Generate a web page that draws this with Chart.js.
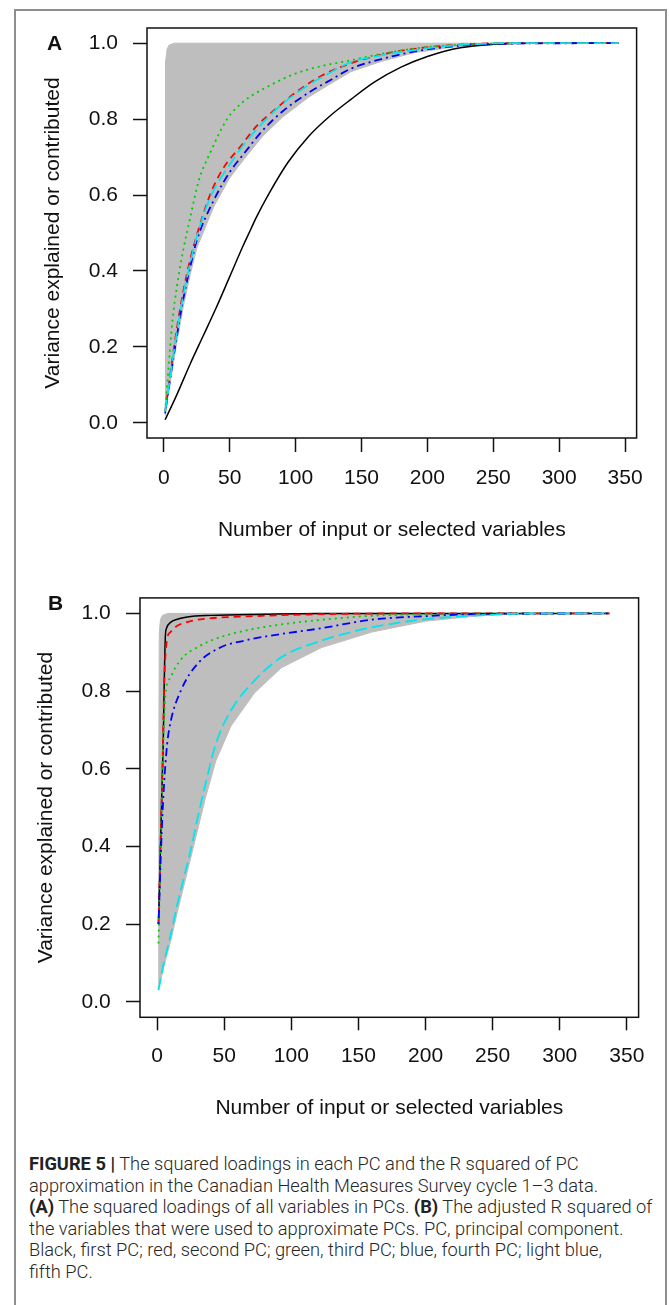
<!DOCTYPE html>
<html><head><meta charset="utf-8">
<script src="https://cdn.jsdelivr.net/npm/chart.js@4/dist/chart.umd.min.js"></script>
<style>
html,body{margin:0;padding:0;background:#fff;}
body{width:669px;height:1305px;position:relative;overflow:hidden;font-family:"Liberation Sans",Arial,sans-serif;}
#frame{position:absolute;left:14px;top:9px;width:653px;height:1320px;border:2px solid #8e8e8e;box-sizing:border-box;}
canvas{position:absolute;left:0;}
.lab{position:absolute;font:bold 21px/24px "Liberation Sans",Arial,sans-serif;color:#111;}
#cap{position:absolute;left:29px;top:1153px;font-family:Roboto,"Liberation Sans",sans-serif;font-weight:300;font-size:18.3px;line-height:21.5px;color:#262626;white-space:nowrap;}
#cap b{font-weight:700;color:#222;}
</style></head>
<body>
<div id="frame"></div>
<canvas id="cA" width="669" height="570" style="top:0px"></canvas>
<canvas id="cB" width="669" height="575" style="top:570px"></canvas>
<div class="lab" style="left:47px;top:31px">A</div>
<div class="lab" style="left:48px;top:591px">B</div>
<div id="cap">
<div><b>FIGURE 5 |</b> The squared loadings in each PC and the R squared of PC</div>
<div>approximation in the Canadian Health Measures Survey cycle 1–3 data.</div>
<div><b>(A)</b> The squared loadings of all variables in PCs. <b>(B)</b> The adjusted R squared of</div>
<div>the variables that were used to approximate PCs. PC, principal component.</div>
<div>Black, first PC; red, second PC; green, third PC; blue, fourth PC; light blue,</div>
<div>fifth PC.</div>
</div>
<script>
// ---------- Panel A data (squared loadings, cumulative) ----------
const xTicksA = [0, 50, 100, 150, 200, 250, 300, 350];
const yTicks = [0, 0.2, 0.4, 0.6, 0.8, 1.0];

const grayHiA_x = [1, 1.1, 1.5, 2.5, 4, 8, 345];
const grayHiA_y = [0.02, 0.6, 0.95, 0.985, 0.995, 1.0, 1.0];
const grayLoA_x = [1, 5, 10, 15, 20, 25, 38, 50, 61, 75, 90, 110, 125, 142, 165, 190, 220, 260, 345];
const grayLoA_y = [0.02, 0.11, 0.215, 0.31, 0.39, 0.46, 0.57, 0.645, 0.695, 0.755, 0.805, 0.858, 0.89, 0.925, 0.952, 0.975, 0.99, 0.999, 1.0];

const blackA_x = [1, 10, 20, 30, 40, 50, 60, 66, 70, 80, 94, 110, 125, 142, 160, 180, 200, 225, 250, 280, 345];
const blackA_y = [0.008, 0.075, 0.155, 0.23, 0.305, 0.385, 0.465, 0.51, 0.54, 0.605, 0.685, 0.755, 0.805, 0.852, 0.898, 0.937, 0.965, 0.988, 0.997, 1.0, 1.0];
const redA_x = [1, 5, 10, 15, 20, 25.5, 35.6, 45, 58, 70, 84, 100, 120, 142, 165, 190, 220, 260, 345];
const redA_y = [0.03, 0.13, 0.25, 0.35, 0.43, 0.5, 0.605, 0.67, 0.727, 0.78, 0.824, 0.87, 0.915, 0.947, 0.97, 0.985, 0.995, 1.0, 1.0];
const greenA_x = [1, 3, 6.6, 10, 15, 20, 26.7, 35, 48, 60, 78.5, 100, 120, 142, 170, 200, 240, 270, 345];
const greenA_y = [0.03, 0.12, 0.27, 0.36, 0.46, 0.54, 0.64, 0.71, 0.8, 0.845, 0.885, 0.92, 0.94, 0.955, 0.975, 0.99, 0.998, 1.0, 1.0];
const blueA_x = [1, 5, 10, 15, 20, 25, 38, 50, 61, 75, 90, 110, 125, 142, 165, 190, 220, 260, 345];
const blueA_y = [0.025, 0.12, 0.23, 0.33, 0.41, 0.48, 0.587, 0.66, 0.71, 0.77, 0.82, 0.87, 0.9, 0.933, 0.958, 0.978, 0.992, 0.999, 1.0];
const cyanA_x = [1, 5, 10, 15, 20, 25, 36, 50, 60, 75, 90, 110, 125, 142, 165, 190, 220, 260, 345];
const cyanA_y = [0.03, 0.125, 0.24, 0.34, 0.42, 0.49, 0.6, 0.68, 0.73, 0.79, 0.84, 0.89, 0.92, 0.95, 0.968, 0.982, 0.994, 1.0, 1.0];

// ---------- Panel B data (adjusted R squared) ----------
const xTicksB = [0, 50, 100, 150, 200, 250, 300, 350];

const grayHiB_x = [1, 1.2, 1.6, 2.5, 4, 8, 337];
const grayHiB_y = [0.03, 0.6, 0.95, 0.985, 0.995, 1.0, 1.0];
const grayLoB_x = [1, 5, 10, 15, 20, 25, 30, 36, 43.7, 55, 72.5, 92.5, 122.5, 160, 200, 240, 280, 337];
const grayLoB_y = [0.03, 0.09, 0.155, 0.23, 0.3, 0.37, 0.44, 0.525, 0.62, 0.71, 0.795, 0.86, 0.912, 0.952, 0.98, 0.994, 1.0, 1.0];

const blackB_x = [1, 2, 3, 4, 4.5, 5, 5.5, 6.2, 7, 10, 15, 22.5, 40, 80, 120, 337];
const blackB_y = [0.2, 0.33, 0.47, 0.6, 0.66, 0.76, 0.86, 0.945, 0.962, 0.977, 0.985, 0.991, 0.995, 0.998, 1.0, 1.0];
const redB_x = [1, 2, 3, 4, 5, 6, 7.5, 10, 15, 25, 35, 72, 120, 180, 337];
const redB_y = [0.2, 0.33, 0.47, 0.6, 0.78, 0.88, 0.935, 0.952, 0.968, 0.98, 0.986, 0.993, 0.998, 1.0, 1.0];
const greenB_x = [1, 2, 3, 4.5, 6.2, 10, 13.7, 20, 30, 40, 55, 75, 97.5, 130, 160, 200, 250, 337];
const greenB_y = [0.15, 0.3, 0.45, 0.65, 0.79, 0.835, 0.861, 0.89, 0.913, 0.93, 0.947, 0.962, 0.974, 0.986, 0.994, 0.998, 1.0, 1.0];
const blueB_x = [1, 2, 3, 5, 7.5, 10, 17.5, 30, 47.5, 65, 85, 122.5, 160, 200, 250, 337];
const blueB_y = [0.2, 0.3, 0.4, 0.55, 0.664, 0.72, 0.8, 0.87, 0.913, 0.93, 0.943, 0.962, 0.984, 0.993, 0.999, 1.0];
const cyanB_x = [1, 5, 10, 15, 20, 25, 30, 36, 43.7, 55, 72.5, 92.5, 122.5, 160, 200, 240, 280, 337];
const cyanB_y = [0.03, 0.1, 0.17, 0.25, 0.32, 0.39, 0.47, 0.56, 0.664, 0.75, 0.827, 0.887, 0.93, 0.964, 0.985, 0.995, 1.0, 1.0];

const yTitle = 'Variance explained or contributed';
const xTitle = 'Number of input or selected variables';

// ---------- helpers ----------
const pts = (xs, ys) => xs.map((x, i) => ({x: x, y: ys[i]}));
const GRAY = '#bebebe';
function curve(xs, ys, color, dash, width, order) {
  return {data: pts(xs, ys), borderColor: color, borderWidth: width, borderDash: dash,
          pointRadius: 0, fill: false, cubicInterpolationMode: 'monotone', order: order};
}
const boxPlugin = {
  id: 'rbox',
  afterDatasetsDraw(chart) {
    const a = chart.chartArea, ctx = chart.ctx;
    ctx.save(); ctx.strokeStyle = '#111'; ctx.lineWidth = 1.5;
    ctx.strokeRect(a.left, a.top, a.right - a.left, a.bottom - a.top);
    ctx.restore();
  }
};
Chart.defaults.font.family = '"Liberation Sans", Arial, sans-serif';
Chart.defaults.font.size = 21;
Chart.defaults.color = '#111';

function build(id, g) {
  const datasets = [
    {data: pts(g.loX, g.loY), borderColor: GRAY, borderWidth: 1, pointRadius: 0, fill: false, tension: 0, order: 10},
    {data: pts(g.hiX, g.hiY), borderColor: GRAY, backgroundColor: GRAY, borderWidth: 1, pointRadius: 0, fill: '-1', tension: 0, order: 9},
    curve(g.black[0], g.black[1], '#000000', [], 1.5, 6),
    curve(g.red[0], g.red[1], '#ff0000', [7, 5], 1.8, 5),
    curve(g.green[0], g.green[1], '#00cd00', [2, 4], 1.8, 4),
    curve(g.blue[0], g.blue[1], '#0000ff', [2, 4, 8, 4], 1.8, 3),
    curve(g.cyan[0], g.cyan[1], '#00e5ee', [12, 5], 1.8, 2)
  ];
  return new Chart(document.getElementById(id), {
    type: 'line',
    data: {datasets: datasets},
    plugins: [boxPlugin],
    options: {
      responsive: false, animation: false, events: [],
      layout: {padding: {left: g.padL, top: g.padT, right: g.padR, bottom: 0}},
      plugins: {legend: {display: false}, tooltip: {enabled: false}},
      scales: {
        x: {
          type: 'linear', min: g.xmin, max: g.xmax,
          afterBuildTicks: s => { s.ticks = g.xTicks.map(v => ({value: v})); },
          afterFit: s => { s.height = g.xH; },
          ticks: {padding: g.xPad, autoSkip: false, maxRotation: 0, callback: v => String(v), color: '#111'},
          grid: {drawOnChartArea: false, drawTicks: true, tickLength: g.xTL, tickWidth: 1.5, tickColor: '#111'},
          border: {display: false},
          title: {display: true, text: xTitle, color: '#111', font: {size: 21}, padding: {top: 0, bottom: g.xTitlePad}}
        },
        y: {
          type: 'linear', min: -0.04, max: 1.04,
          afterBuildTicks: s => { s.ticks = yTicks.map(v => ({value: v})); },
          afterFit: s => { s.width = g.yW; },
          ticks: {padding: g.yPad, autoSkip: false, callback: v => Number(v).toFixed(1), color: '#111'},
          grid: {drawOnChartArea: false, drawTicks: true, tickLength: 14, tickWidth: 1.5, tickColor: '#111'},
          border: {display: false},
          title: {display: true, text: yTitle, color: '#111', font: {size: 21}, padding: {top: g.yTitlePad, bottom: 0}}
        }
      }
    }
  });
}

build('cA', {
  loX: grayLoA_x, loY: grayLoA_y, hiX: grayHiA_x, hiY: grayHiA_y,
  black: [blackA_x, blackA_y], red: [redA_x, redA_y], green: [greenA_x, greenA_y],
  blue: [blueA_x, blueA_y], cyan: [cyanA_x, cyanA_y],
  xTicks: xTicksA, xmin: 1 - 0.04 * 344, xmax: 345 + 0.04 * 344,
  padL: 20, padT: 28, padR: 32.4, yW: 127, xH: 132, xTL: 14, xPad: 13.4, yPad: 15,
  xTitlePad: 27.4, yTitlePad: 20.4
});
build('cB', {
  loX: grayLoB_x, loY: grayLoB_y, hiX: grayHiB_x, hiY: grayHiB_y,
  black: [blackB_x, blackB_y], red: [redB_x, redB_y], green: [greenB_x, greenB_y],
  blue: [blueB_x, blueB_y], cyan: [cyanB_x, cyanB_y],
  xTicks: xTicksB, xmin: 1 - 0.04 * 344, xmax: 345 + 0.04 * 344,
  padL: 20, padT: 27.1, padR: 30.4, yW: 120, xH: 127.7, xTL: 13, xPad: 13.8, yPad: 15.3,
  xTitlePad: 24.4, yTitlePad: 13.4
});
</script>
</body></html>
